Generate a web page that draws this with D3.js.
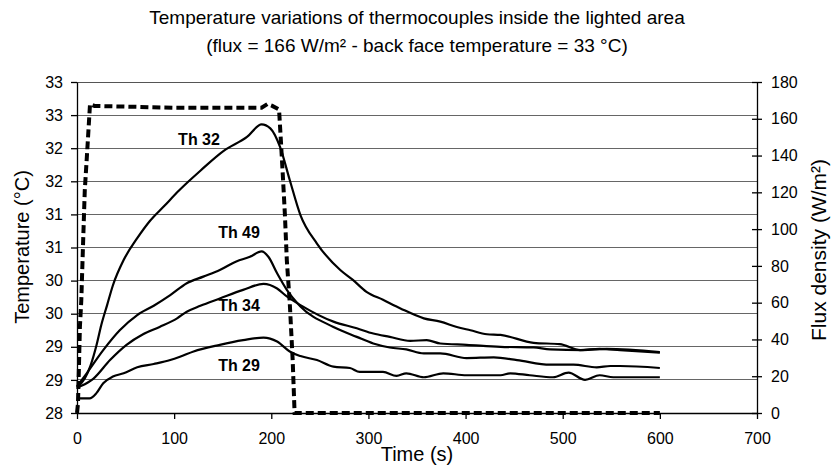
<!DOCTYPE html>
<html><head><meta charset="utf-8">
<script src="https://cdn.jsdelivr.net/npm/d3@7"></script>
<style>
body{margin:0;background:#fff}
svg{display:block}
text{font-family:Arial,"Liberation Sans",sans-serif;fill:#000}
</style></head><body>
<svg id="c" width="831" height="468"></svg>
<script>
const titleLines = ["Temperature variations of thermocouples inside the lighted area",
                    "(flux = 166 W/m\u00b2 - back face temperature = 33 \u00b0C)"];
const xTitle = "Time (s)";
const yLeftTitle = "Temperature (\u00b0C)";
const yRightTitle = "Flux density (W/m\u00b2)";
const xTicks = [0,100,200,300,400,500,600,700];
const tempTicks = [28,28.5,29,29.5,30,30.5,31,31.5,32,32.5,33];
const fluxTicks = [0,20,40,60,80,100,120,140,160,180];

// flux density (W/m2) : [time s, value]
const flux = [[0,0],[1,5],[2,25],[3,47],[4.4,61],[6,88],[8,121],[10,138],[13.4,168],[18,167],
  [100,166],[190,166],[196,168],[201,167],[208,165],[210,147],[212,128],[214,108],[216,83],
  [219,60],[222,29],[224,0],[600,0]];

// temperatures (deg C) : [time s, value]
const th32 = [[0,28.39],[8,28.52],[14,28.72],[20,29.02],[25,29.33],[31,29.63],[37,29.93],[48,30.31],[62,30.64],
  [75,30.90],[90,31.13],[105,31.36],[115,31.50],[127,31.66],[151,31.96],[175,32.17],[190,32.36],
  [199,32.30],[209,32.02],[219,31.52],[230,30.99],[247,30.56],[271,30.16],[284,30.01],[298,29.83],
  [315,29.71],[333,29.58],[357,29.43],[374,29.38],[391,29.30],[405,29.25],[422,29.19],[436,29.18],
  [470,29.06],[497,29.04],[518,28.95],[538,28.97],[559,28.95],[600,28.91]];
const th49 = [[0,28.40],[10,28.60],[27,28.95],[44,29.25],[62,29.48],[79,29.62],[96,29.78],[113,29.96],
  [130,30.06],[147,30.16],[164,30.29],[178,30.36],[190,30.44],[197,30.36],[206,30.11],[216,29.86],
  [230,29.61],[264,29.30],[288,29.15],[305,29.05],[322,28.99],[339,28.96],[357,28.90],[374,28.90],
  [401,28.83],[429,28.84],[453,28.80],[487,28.73],[511,28.73],[535,28.69],[549,28.71],[559,28.71],[600,28.68]];
const th34 = [[0,28.38],[3,28.40],[17,28.52],[34,28.80],[51,29.03],[68,29.19],[85,29.30],[103,29.43],
  [113,29.53],[127,29.62],[147,29.73],[171,29.86],[192,29.95],[206,29.88],[216,29.76],[230,29.63],
  [264,29.38],[288,29.28],[305,29.20],[322,29.15],[343,29.09],[360,29.10],[374,29.05],[401,29.03],
  [436,29.00],[470,28.99],[487,28.96],[521,28.95],[545,28.97],[600,28.92]];
const th29 = [[0,28.22],[13,28.22],[20,28.30],[27,28.45],[37,28.55],[48,28.60],[62,28.69],[79,28.74],
  [96,28.80],[106,28.85],[120,28.93],[147,29.03],[171,29.10],[192,29.14],[206,29.08],[219,28.93],
  [230,28.86],[247,28.80],[264,28.70],[281,28.68],[291,28.62],[315,28.62],[329,28.56],[339,28.60],
  [357,28.54],[377,28.60],[401,28.57],[436,28.57],[446,28.60],[466,28.57],[490,28.54],[506,28.61],
  [523,28.50],[538,28.57],[552,28.54],[600,28.54]];

const seriesNames = ["Th 32","Th 49","Th 34","Th 29"];
const seriesData = [th32, th49, th34, th29];
// label anchor (data units): [time, temperature]
const labelPos = [[125.6,32.05],[166.8,30.64],[166.8,29.545],[166.8,28.63]];

const svg = d3.select("#c");
const x = d3.scaleLinear().domain([0,700]).range([77,757]);
const yT = d3.scaleLinear().domain([28,33]).range([413,82]);
const yF = d3.scaleLinear().domain([0,180]).range([413,82]);

// gridlines
svg.append("g").selectAll("line").data(tempTicks.filter(d=>d>28)).join("line")
  .attr("x1",x(0)).attr("x2",x(700)).attr("y1",d=>yT(d)).attr("y2",d=>yT(d))
  .attr("stroke",d=>d===33?"#555":"#666").attr("stroke-width",1).attr("shape-rendering","crispEdges");

const fs = 16;
// left axis
const gL = svg.append("g").attr("transform",`translate(${x(0)},0)`)
  .call(d3.axisLeft(yT).tickValues(tempTicks).tickFormat(d=>Math.round(d)).tickSize(6).tickSizeOuter(0).tickPadding(8));
// right axis
const gR = svg.append("g").attr("transform",`translate(${x(700)},0)`)
  .call(d3.axisRight(yF).tickValues(fluxTicks).tickSize(5).tickSizeOuter(0).tickPadding(9));
gR.selectAll(".tick line").attr("x1",-5);
// bottom axis
const gB = svg.append("g").attr("transform",`translate(0,${yT(28)})`)
  .call(d3.axisBottom(x).tickValues(xTicks).tickSize(6).tickSizeOuter(0).tickPadding(14));
[gL,gR,gB].forEach(g=>{
  g.selectAll("text").attr("font-size",fs).attr("font-family","Arial, Liberation Sans, sans-serif").attr("fill","#000");
  g.selectAll("line,path").attr("stroke","#000").attr("stroke-width",1.3);
});

// flux dashed line
svg.append("path").datum(flux)
  .attr("d",d3.line().x(d=>x(d[0])).y(d=>yF(d[1])))
  .attr("fill","none").attr("stroke","#000").attr("stroke-width",4)
  .attr("stroke-dasharray","8,4");

// temperature lines
const lineT = d3.line().x(d=>x(d[0])).y(d=>yT(d[1])).curve(d3.curveMonotoneX);
svg.append("g").selectAll("path").data(seriesData).join("path")
  .attr("d",lineT).attr("fill","none").attr("stroke","#000").attr("stroke-width",2.2)
  .attr("stroke-linejoin","round");

// series labels
svg.append("g").selectAll("text").data(seriesNames).join("text")
  .attr("x",(d,i)=>x(labelPos[i][0])).attr("y",(d,i)=>yT(labelPos[i][1]))
  .attr("text-anchor","middle").attr("font-weight","bold").attr("font-size",16).text(d=>d);

// titles
svg.append("g").selectAll("text").data(titleLines).join("text")
  .attr("x",417).attr("y",(d,i)=>24+i*28).attr("text-anchor","middle").attr("font-size",19).text(d=>d);
svg.append("text").attr("x",417).attr("y",461).attr("text-anchor","middle").attr("font-size",20).text(xTitle);
svg.append("text").attr("transform","translate(29,247) rotate(-90)").attr("text-anchor","middle").attr("font-size",20).text(yLeftTitle);
svg.append("text").attr("transform","translate(826,250) rotate(-90)").attr("text-anchor","middle").attr("font-size",21).text(yRightTitle);
</script></body></html>
